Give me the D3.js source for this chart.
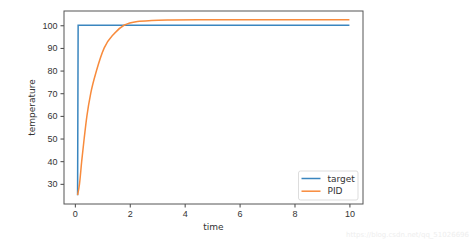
<!DOCTYPE html>
<html>
<head>
<meta charset="utf-8">
<script src="https://cdn.jsdelivr.net/npm/d3@7"></script>
<style>
    body { margin: 0; background: #fff; }
    svg { display: block; font-family: "DejaVu Sans", sans-serif; }
    .tick text { font-size: 9px; fill: #333; }
</style>
</head>
<body>
<div id="chart"></div>
<script>
// target series
const targetTime = [0.1, 0.12, 10];
const targetTemp = [25, 100, 100];
// PID response
const pidTime = [0.1, 0.17, 0.25, 0.34, 0.44, 0.58, 0.79, 1.07, 1.43, 1.79, 2.28, 2.8, 3.5, 4.5, 6, 8, 10];
const pidTemp = [25, 30, 40, 50, 60, 70, 80, 90, 96.3, 100, 101.7, 102.1, 102.3, 102.4, 102.4, 102.4, 102.4];
const xTicks = [0, 2, 4, 6, 8, 10];
const yTicks = [30, 40, 50, 60, 70, 80, 90, 100];
const seriesNames = ['target', 'PID'];
const colors = ['#3a86bf', '#f88b3c'];

const width = 474, height = 242;
const margin = { left: 64, top: 11, right: 111, bottom: 38 };

const svg = d3.select('#chart')
    .append('svg')
    .attr('width', width)
    .attr('height', height);

const x = d3.scaleLinear()
    .domain([-0.395, 10.495])
    .range([margin.left, width - margin.right]);
const y = d3.scaleLinear()
    .domain([21.1, 106.3])
    .range([height - margin.bottom, margin.top]);

const line = d3.line()
    .x(d => x(d[0]))
    .y(d => y(d[1]));

const series = [
    d3.zip(targetTime, targetTemp),
    d3.zip(pidTime, pidTemp)
];

// lines
svg.append('g')
    .selectAll('path')
    .data(series)
    .join('path')
    .attr('fill', 'none')
    .attr('stroke', (d, i) => colors[i])
    .attr('stroke-width', 1.5)
    .attr('d', (d, i) => i === 1 ? line.curve(d3.curveMonotoneX)(d) : line.curve(d3.curveLinear)(d));

// axes
const xAxis = svg.append('g')
    .attr('transform', `translate(0,${height - margin.bottom})`)
    .call(d3.axisBottom(x).tickValues(xTicks).tickSize(3.5).tickPadding(3).tickSizeOuter(0));
const yAxis = svg.append('g')
    .attr('transform', `translate(${margin.left},0)`)
    .call(d3.axisLeft(y).tickValues(yTicks).tickSize(3.5).tickPadding(3).tickSizeOuter(0));
[xAxis, yAxis].forEach(a => {
    a.select('.domain').remove();
    a.selectAll('.tick line').attr('stroke', '#444');
});

// frame
svg.append('rect')
    .attr('x', margin.left)
    .attr('y', margin.top)
    .attr('width', width - margin.left - margin.right)
    .attr('height', height - margin.top - margin.bottom)
    .attr('fill', 'none')
    .attr('stroke', '#555')
    .attr('stroke-width', 1);

// axis labels
svg.append('text')
    .attr('x', (margin.left + width - margin.right) / 2)
    .attr('y', 230)
    .attr('text-anchor', 'middle')
    .attr('font-size', 9)
    .attr('fill', '#333')
    .text('time');
svg.append('text')
    .attr('transform', `translate(35,${(margin.top + height - margin.bottom) / 2}) rotate(-90)`)
    .attr('text-anchor', 'middle')
    .attr('font-size', 9)
    .attr('fill', '#333')
    .text('temperature');

// legend
const lg = svg.append('g').attr('transform', 'translate(298.5,171)');
lg.append('rect')
    .attr('width', 59.5)
    .attr('height', 29)
    .attr('rx', 2)
    .attr('fill', '#fff')
    .attr('stroke', '#ddd');
const items = lg.selectAll('g.item')
    .data(seriesNames)
    .join('g')
    .attr('class', 'item')
    .attr('transform', (d, i) => `translate(0,${7.5 + i * 12.7})`);
items.append('line')
    .attr('x1', 3).attr('x2', 22)
    .attr('stroke', (d, i) => colors[i])
    .attr('stroke-width', 1.5);
items.append('text')
    .attr('x', 29)
    .attr('dy', '0.35em')
    .attr('font-size', 9)
    .attr('fill', '#333')
    .text(d => d);

// watermark
svg.append('text')
    .attr('x', 469)
    .attr('y', 237)
    .attr('text-anchor', 'end')
    .attr('font-size', 7)
    .attr('fill', '#eee')
    .text('https://blog.csdn.net/qq_51026696');
</script>
</body>
</html>
